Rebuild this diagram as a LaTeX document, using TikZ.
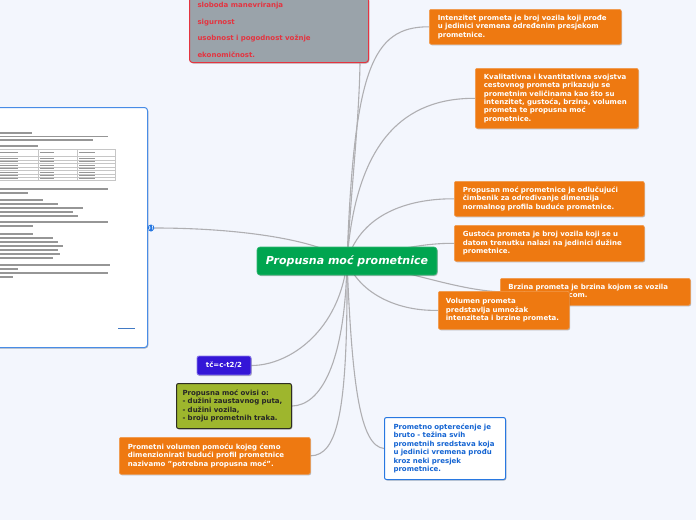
\documentclass[tikz,border=0pt]{standalone}
\usepackage{fontspec}
\setmainfont{DejaVu Sans}[BoldFont={DejaVu Sans Bold},ItalicFont={DejaVu Sans Oblique},BoldItalicFont={DejaVu Sans Bold Oblique}]
\usetikzlibrary{shadows}
\definecolor{bgc}{RGB}{243,246,253}
\definecolor{orng}{RGB}{238,121,17}
\definecolor{grn}{RGB}{0,165,80}
\definecolor{gboxc}{RGB}{154,163,170}
\definecolor{redc}{RGB}{228,52,64}
\definecolor{blueboxc}{RGB}{52,22,215}
\definecolor{olivec}{RGB}{158,182,45}
\definecolor{darkb}{RGB}{45,45,35}
\definecolor{blueline}{RGB}{40,120,225}
\definecolor{bluetext}{RGB}{20,100,210}
\definecolor{connc}{RGB}{175,175,178}
\definecolor{docink}{RGB}{150,150,150}
\pgfdeclarelayer{back}
\pgfsetlayers{back,main}
\tikzset{
  shad/.style={drop shadow={shadow xshift=0.8pt,shadow yshift=-1pt,opacity=0.25,fill=black}},
  boxbase/.style={rectangle, rounded corners=2pt, anchor=north west, align=left, inner ysep=0pt,
    font=\fontsize{7}{8.4}\selectfont\bfseries, shad},
  ob/.style={boxbase, fill=orng, draw=orng!75!white, line width=0.6pt, text=white, inner xsep=8.5pt},
  link/.style={draw=connc, line width=1.1pt},
}
\begin{document}
\begin{tikzpicture}[x=1pt,y=-1pt]
\begin{pgfonlayer}{back}
\fill[bgc] (0,0) rectangle (696,520);
\end{pgfonlayer}
\useasboundingbox (0,0) rectangle (696,520);
\clip (0,0) rectangle (696,520);

% top grey box
\node[rectangle, rounded corners=3pt, anchor=south west, fill=gboxc, draw=redc, line width=1pt,
  text=redc, align=left, text width=163pt, inner xsep=8pt, inner ysep=5pt,
  font=\fontsize{7}{16.7}\selectfont\bfseries, shad] (gb) at (189,63)
  {sloboda manevriranja\\ sigurnost\\ usobnost i pogodnost vožnje\\ ekonomičnost.};
\coordinate (gpt) at (360,63.5);

% document preview
\node[rectangle, rounded corners=3pt, anchor=north west, fill=white, draw=blueline!85!white,
  line width=1pt, minimum width=153pt, minimum height=240pt, shad] (doc) at (-6,107) {};
\fill[docink] (-2,132.2) rectangle ++(34,1.8);
\foreach \y/\w in {136.5/110,140/95,146/40,189/110,193/30,204/60,208/85,212/75,216/80,222/110,226/35,
  238/55,242/60,246/65,250/60,254/62,258/55,265/112,269/20,273/110,277/15}
  \fill[docink] (-2,\y-0.7) rectangle ++(\w,1.4);
\foreach \y/\w in {200/45,234/35}
  \fill[docink] (-2,\y-0.8) rectangle ++(\w,1.7);
\draw[gray!45, line width=0.4pt] (-2,149) rectangle (115,180);
\foreach \y in {156,160,163.5,167,170.5,174,177}
  \draw[gray!45, line width=0.3pt] (-2,\y) -- (115,\y);
\draw[gray!45, line width=0.3pt] (38,149) -- (38,180) (77,149) -- (77,180);
\foreach \y in {152.5,158,161.8,165.2,168.8,172.2,175.5,178.5}{
  \fill[docink] (0,\y-0.5) rectangle ++(18,1.1);
  \fill[docink] (40,\y-0.5) rectangle ++(14,1.1);
  \fill[docink] (79,\y-0.5) rectangle ++(16,1.1);}
\fill[blueline!70!gray] (118,327.8) rectangle ++(17,1.5);

% globe icon
\node[circle, fill=blueline, minimum size=7pt, inner sep=0pt] (globe) at (151,228) {};
\draw[white, line width=0.6pt] (149,226) .. controls (151,227) and (150,229) .. (148.5,230);
\draw[white, line width=0.6pt] (152.5,225.5) .. controls (153,228) and (152,229) .. (153.5,231);

% centre
\node[rectangle, rounded corners=3pt, fill=grn, draw=grn!80!white, line width=0.6pt, text=white,
  minimum width=180pt, minimum height=28pt, inner sep=0pt,
  font=\fontsize{11}{13}\selectfont\bfseries\itshape, shad] (ctr) at (347,261) {Propusna moć prometnice};

% right orange boxes
\node[ob, text width=175pt, minimum width=192pt, minimum height=35pt] (int) at (429,9)
  {Intenzitet prometa je broj vozila koji prođe\\ u jedinici vremena određenim presjekom\\ prometnice.};
\node[ob, text width=146pt, minimum width=163pt, minimum height=60pt] (kva) at (475,68)
  {Kvalitativna i kvantitativna svojstva\\ cestovnog prometa prikazuju se\\ prometnim veličinama kao što su\\ intenzitet, gustoća, brzina, volumen\\ prometa te propusna moć\\ prometnice.};
\node[ob, text width=173pt, minimum width=190pt, minimum height=35pt] (pro) at (454,181)
  {Propusan moć prometnice je odlučujući\\ čimbenik za određivanje dimenzija\\ normalnog profila buduće prometnice.};
\node[ob, text width=173pt, minimum width=190pt, minimum height=36pt] (gus) at (454,225)
  {Gustoća prometa je broj vozila koji se u\\ datom trenutku nalazi na jedinici dužine\\ prometnice.};
\node[ob, text width=174pt, minimum width=190pt, minimum height=27pt, inner xsep=8pt] (brz) at (500,278)
  {Brzina prometa je brzina kojom se vozila\\ kreću prometnicom.};
\node[ob, text width=116pt, minimum width=131pt, minimum height=38pt, inner xsep=7.5pt] (vol) at (438,291)
  {Volumen prometa\\ predstavlja umnožak\\ intenziteta i brzine prometa.};

% lower left boxes
\node[rectangle, rounded corners=2pt, fill=blueboxc, draw=blueboxc!55!white, line width=0.8pt, text=white,
  minimum width=54pt, minimum height=19pt, inner sep=0pt, font=\fontsize{7}{8.4}\selectfont\bfseries, shad]
  (tc) at (224,365.5) {tč=c-t2/2};
\node[boxbase, fill=olivec, draw=darkb, line width=1pt, text=black!85, text width=103pt, inner xsep=6pt,
  minimum width=115pt, minimum height=45pt] (ovi) at (176,383)
  {Propusna moć ovisi o:\\ - dužini zaustavnog puta,\\ - dužini vozila,\\ - broju prometnih traka.};
\node[ob, text width=174pt, minimum width=191pt, minimum height=37pt] (pvol) at (119,437)
  {Prometni volumen pomoću kojeg ćemo\\ dimenzionirati budući profil prometnice\\ nazivamo "potrebna propusna moć".};
\node[boxbase, fill=white, draw=blueline, line width=1pt, text=bluetext, text width=103pt, inner xsep=9pt,
  minimum width=121pt, minimum height=62pt] (opt) at (384,417)
  {Prometno opterećenje je\\ bruto - težina svih\\ prometnih sredstava koja\\ u jedinici vremena prođu\\ kroz neki presjek\\ prometnice.};

% connectors
\begin{pgfonlayer}{back}
\draw[link] (ctr.center) .. controls (352,180) and (359,120) .. (gpt);
\draw[link] (ctr.center) .. controls (354,70) and (372,26.5) .. (int.west);
\draw[link] (ctr.center) .. controls (356,140) and (405,98) .. (kva.west);
\draw[link] (ctr.center) .. controls (362,210) and (415,198.5) .. (pro.west);
\draw[link] (ctr.center) .. controls (385,252) and (420,243) .. (gus.west);
\draw[link] (ctr.center) .. controls (400,268) and (455,290) .. (brz.west);
\draw[link] (ctr.center) .. controls (360,295) and (400,311.5) .. (vol.west);
\draw[link] (globe.east) .. controls (240,228) and (320,240) .. (ctr.center);
\draw[link] (ctr.center) .. controls (340,330) and (290,365.5) .. (tc.east);
\draw[link] (ctr.center) .. controls (345,365) and (320,405.5) .. (ovi.east);
\draw[link] (ctr.center) .. controls (348,410) and (338,455.5) .. (pvol.east);
\draw[link] (ctr.center) .. controls (352,385) and (360,446) .. (opt.west);
\end{pgfonlayer}
\end{tikzpicture}
\end{document}
